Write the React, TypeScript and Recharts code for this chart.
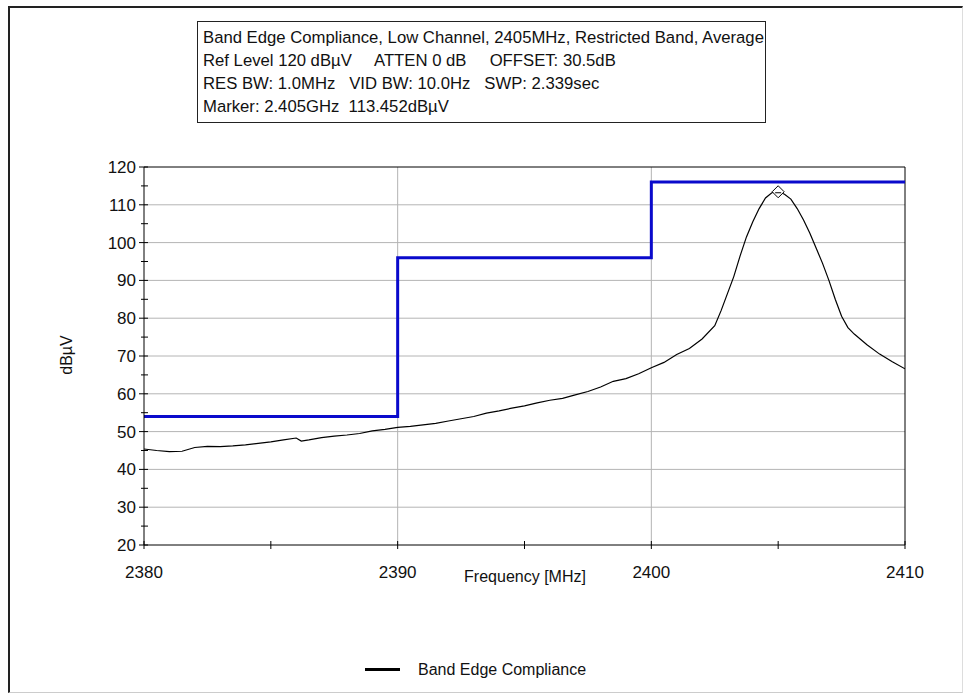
import React from "react";
import { CartesianGrid, Line, LineChart, ReferenceDot, ReferenceLine, XAxis, YAxis } from "recharts";

const traceFreq = [
  2380, 2380.5, 2381, 2381.5, 2382, 2382.5, 2383, 2383.5, 2384, 2384.5, 2385, 2385.5, 2386, 2386.2, 2386.5,
  2387, 2387.5, 2388, 2388.5, 2389, 2389.5, 2390, 2390.5, 2391, 2391.5, 2392, 2392.5, 2393, 2393.5, 2394,
  2394.5, 2395, 2395.5, 2396, 2396.5, 2397, 2397.5, 2398, 2398.5, 2399, 2399.5, 2400, 2400.5, 2401, 2401.5,
  2402, 2402.5, 2402.75, 2403, 2403.25, 2403.5, 2403.75, 2404, 2404.25, 2404.5, 2404.75, 2405, 2405.25,
  2405.5, 2405.75, 2406, 2406.25, 2406.5, 2406.75, 2407, 2407.25, 2407.5, 2407.75, 2408, 2408.5, 2409,
  2409.5, 2410,
];
const traceLevel = [
  45.4, 45.0, 44.7, 44.8, 45.8, 46.1, 46.0, 46.2, 46.5, 46.9, 47.3, 47.8, 48.3, 47.5, 47.8,
  48.4, 48.8, 49.1, 49.5, 50.2, 50.6, 51.1, 51.4, 51.8, 52.2, 52.8, 53.4, 54.0, 54.9, 55.5,
  56.2, 56.8, 57.6, 58.3, 58.8, 59.7, 60.6, 61.8, 63.3, 64.0, 65.3, 66.9, 68.3, 70.4, 72.0,
  74.5, 78.0, 82.0, 86.5, 91.0, 96.5, 101.5, 105.5, 109.0, 111.8, 113.2, 113.5, 112.8,
  111.5, 109.0, 106.0, 102.5, 98.5, 94.5, 90.0, 85.0, 80.5, 77.5, 75.8, 73.0, 70.5,
  68.5, 66.6,
];

// restricted band limit
const limitFreq = [2380, 2390, 2400, 2410];
const limitLevel = [54, 96, 116, 116];

const markerFreq = 2405;
const markerLevel = 113.452;

const xTicks = [2380, 2385, 2390, 2395, 2400, 2405, 2410];
const yTicks = [20, 25, 30, 35, 40, 45, 50, 55, 60, 65, 70, 75, 80, 85, 90, 95, 100, 105, 110, 115, 120];
const xGrid = [2390, 2400];
const yGrid = [30, 40, 50, 60, 70, 80, 90, 100, 110];

const headerLines = [
  "Band Edge Compliance, Low Channel, 2405MHz, Restricted Band, Average",
  "Ref Level 120 dBµV     ATTEN 0 dB     OFFSET: 30.5dB",
  "RES BW: 1.0MHz   VID BW: 10.0Hz   SWP: 2.339sec",
  "Marker: 2.405GHz  113.452dBµV",
];

const trace = traceFreq.map((f, i) => ({ freq: f, level: traceLevel[i] }));
const limit = limitFreq.map((f, i) => ({ freq: f, limit: limitLevel[i] }));

const FONT = "'Liberation Sans', Arial, sans-serif";

function YTick(props: any) {
  const { x, y, payload } = props;
  const major = payload.value % 10 === 0;
  return (
    <g>
      <line x1={x - (major ? 5 : 3)} x2={x + 4} y1={y} y2={y} stroke="#000" />
      {major && (
        <text x={x - 8} y={y + 6} textAnchor="end" fontSize={17} fontFamily={FONT} fill="#111">
          {payload.value}
        </text>
      )}
    </g>
  );
}

function XTick(props: any) {
  const { x, y, payload } = props;
  const major = payload.value % 10 === 0;
  return (
    <g>
      <line x1={x} x2={x} y1={y - 4} y2={y + 4} stroke="#000" />
      {major && (
        <text x={x} y={y + 33} textAnchor="middle" fontSize={17} fontFamily={FONT} fill="#111">
          {payload.value}
        </text>
      )}
    </g>
  );
}

const Diamond = (props: any) => {
  const { cx, cy } = props;
  const r = 6;
  return (
    <g>
      <polygon
        points={`${cx},${cy - r} ${cx + r},${cy} ${cx},${cy + r} ${cx - r},${cy}`}
        fill="#fff"
        stroke="#000"
        strokeWidth={1}
      />
      <line x1={cx - 3} x2={cx + 3} y1={cy + 1} y2={cy + 1} stroke="#000" />
    </g>
  );
};

export default function App() {
  return (
    <div style={{ position: "absolute", left: 0, top: 0, width: 971, height: 694, background: "#fff", fontFamily: FONT }}>
      <div
        style={{
          position: "absolute",
          left: 8,
          top: 6,
          width: 952,
          height: 684,
          borderLeft: "2px solid #222",
          borderTop: "2px solid #222",
          borderRight: "1px solid #ddd",
          borderBottom: "1px solid #ccc",
        }}
      />
      <LineChart
        width={971}
        height={694}
        margin={{ top: 167, right: 66, left: 84, bottom: 119 }}
        style={{ position: "absolute", left: 0, top: 0 }}
      >
        <CartesianGrid stroke="#b4b4b4" horizontalValues={yGrid} verticalValues={xGrid} />
        <XAxis
          dataKey="freq"
          type="number"
          domain={[2380, 2410]}
          ticks={xTicks}
          allowDataOverflow
          height={30}
          tickSize={0}
          tickMargin={0}
          tickLine={false}
          axisLine={{ stroke: "#000" }}
          tick={<XTick />}
          interval={0}
        />
        <YAxis
          type="number"
          domain={[20, 120]}
          ticks={yTicks}
          allowDataOverflow
          width={60}
          tickSize={0}
          tickMargin={0}
          tickLine={false}
          axisLine={{ stroke: "#000" }}
          tick={<YTick />}
          interval={0}
        />
        <ReferenceLine y={120} stroke="#000" />
        <ReferenceLine x={2410} stroke="#000" />
        <Line
          data={trace}
          dataKey="level"
          type="linear"
          stroke="#000"
          strokeWidth={1.2}
          dot={false}
          isAnimationActive={false}
        />
        <Line
          data={limit}
          dataKey="limit"
          type="stepAfter"
          stroke="#0a0acc"
          strokeWidth={3}
          dot={false}
          isAnimationActive={false}
        />
        <ReferenceDot x={markerFreq} y={markerLevel} shape={<Diamond />} />
      </LineChart>

      <div
        style={{
          position: "absolute",
          left: 197,
          top: 21,
          width: 567,
          height: 100,
          border: "1px solid #222",
          boxSizing: "content-box",
          padding: 0,
        }}
      >
        <div style={{ paddingTop: 4, paddingLeft: 5 }}>
          {headerLines.map((t, i) => (
            <div key={i} style={{ fontSize: 16.7, lineHeight: "23px", whiteSpace: "pre", color: "#111" }}>
              {t}
            </div>
          ))}
        </div>
      </div>

      <div
        style={{
          position: "absolute",
          left: 47,
          top: 344,
          width: 40,
          height: 22,
          transform: "rotate(-90deg)",
          fontSize: 16,
          lineHeight: "22px",
          textAlign: "center",
          color: "#111",
        }}
      >
        dBµV
      </div>

      <div style={{ position: "absolute", left: 425, top: 566, width: 200, textAlign: "center", fontSize: 16, lineHeight: "22px", color: "#111" }}>
        Frequency [MHz]
      </div>

      <div style={{ position: "absolute", left: 365, top: 668, width: 35, height: 3, background: "#000" }} />
      <div style={{ position: "absolute", left: 418, top: 659, fontSize: 16, lineHeight: "22px", color: "#111", whiteSpace: "nowrap" }}>
        Band Edge Compliance
      </div>
    </div>
  );
}
